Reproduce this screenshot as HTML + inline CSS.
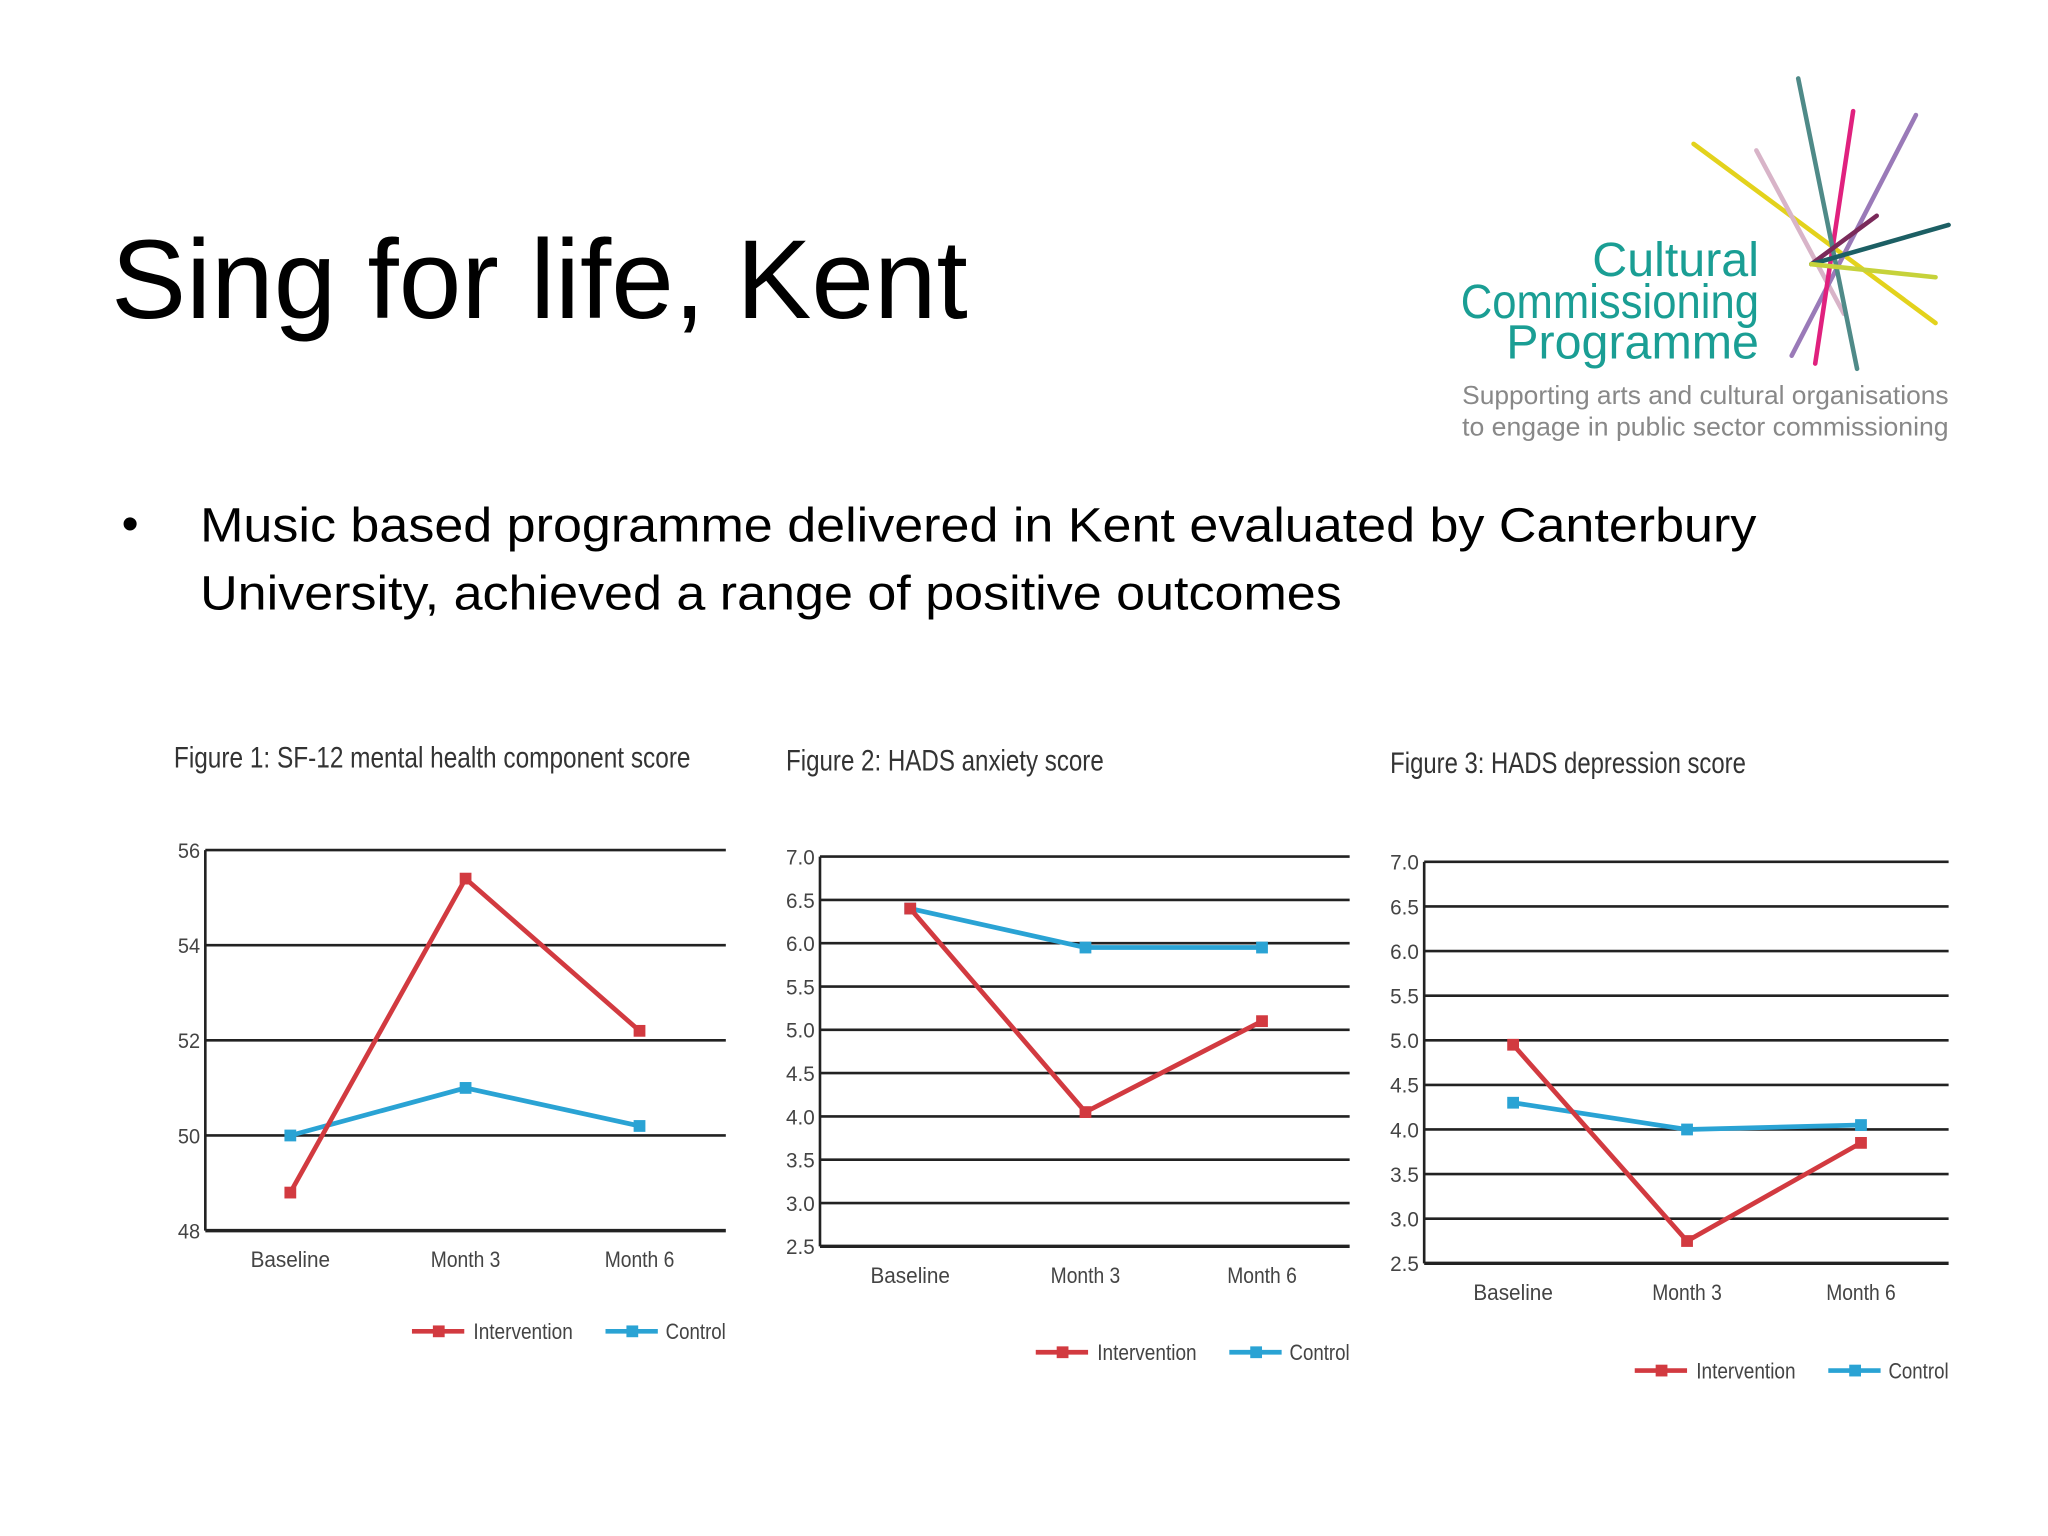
<!DOCTYPE html>
<html><head><meta charset="utf-8"><style>
html,body{margin:0;padding:0;background:#fff;}
svg{display:block;}
text{font-family:"Liberation Sans",sans-serif;}
</style></head><body>
<svg id="page" width="2048" height="1536" viewBox="0 0 1566 1174.5" preserveAspectRatio="none" xmlns="http://www.w3.org/2000/svg">
<rect width="1566" height="1175" fill="#fff"/>
<text x="85" y="243" font-size="86" fill="#000" textLength="655" lengthAdjust="spacingAndGlyphs">Sing for life, Kent</text>
<g>
  <g stroke-width="3.5" stroke-linecap="round">
    <line x1="1295" y1="110" x2="1480" y2="247" stroke="#e3d21c"/>
    <line x1="1343" y1="115" x2="1410" y2="240" stroke="#d8b4c8"/>
    <line x1="1465" y1="88" x2="1370" y2="272" stroke="#9a7ab8"/>
    <line x1="1417" y1="85" x2="1388" y2="278" stroke="#e0217e"/>
    <line x1="1375" y1="60" x2="1420" y2="282" stroke="#4f8a88"/>
    <line x1="1435" y1="165" x2="1385" y2="202" stroke="#7a2a5a"/>
    <line x1="1490" y1="172" x2="1385" y2="202" stroke="#1c5f64"/>
    <line x1="1385" y1="202" x2="1480" y2="212" stroke="#c6d23a"/>
  </g>
  <g fill="#1a9e94" font-size="37" text-anchor="end">
    <text x="1345" y="211">Cultural</text>
    <text x="1345" y="243" textLength="228" lengthAdjust="spacingAndGlyphs">Commissioning</text>
    <text x="1345" y="274">Programme</text>
  </g>
  <g fill="#888" font-size="20">
    <text x="1118" y="309" textLength="372" lengthAdjust="spacingAndGlyphs">Supporting arts and cultural organisations</text>
    <text x="1118" y="333" textLength="372" lengthAdjust="spacingAndGlyphs">to engage in public sector commissioning</text>
  </g>
</g>
<g font-size="37" fill="#000">
  <text x="93" y="413">•</text>
  <text x="153" y="414" textLength="1190" lengthAdjust="spacingAndGlyphs">Music based programme delivered in Kent evaluated by Canterbury</text>
  <text x="153" y="466" textLength="873" lengthAdjust="spacingAndGlyphs">University, achieved a range of positive outcomes</text>
</g>
<g id="charts"></g>
</svg>
<script>
const categories = ["Baseline","Month 3","Month 6"];
const fig1Title = "Figure 1: SF-12 mental health component score";
const fig1Ticks = [48,50,52,54,56];
const fig1TickLabels = ["48","50","52","54","56"];
const fig1Intervention = [48.8,55.4,52.2];
const fig1Control = [50.0,51.0,50.2];
const fig2Title = "Figure 2: HADS anxiety score";
const fig2Ticks = [2.5,3.0,3.5,4.0,4.5,5.0,5.5,6.0,6.5,7.0];
const fig2TickLabels = ["2.5","3.0","3.5","4.0","4.5","5.0","5.5","6.0","6.5","7.0"];
const fig2Intervention = [6.4,4.05,5.1];
const fig2Control = [6.4,5.95,5.95];
const fig3Title = "Figure 3: HADS depression score";
const fig3Ticks = [2.5,3.0,3.5,4.0,4.5,5.0,5.5,6.0,6.5,7.0];
const fig3TickLabels = ["2.5","3.0","3.5","4.0","4.5","5.0","5.5","6.0","6.5","7.0"];
const fig3Intervention = [4.95,2.75,3.85];
const fig3Control = [4.3,4.0,4.05];
const legendLabels = ["Intervention","Control"];

const NS = "http://www.w3.org/2000/svg";
const RED = "#d23a40", BLUE = "#2aa3d4";
function mk(tag, attrs, parent){const e=document.createElementNS(NS,tag);for(const k in attrs)e.setAttribute(k,attrs[k]);parent.appendChild(e);return e;}

function drawChart(cfg){
  const root=document.getElementById('charts');
  const g=mk('g',{},root);
  
  
  const min=cfg.ticks[0], max=cfg.ticks[cfg.ticks.length-1];
  const y=v=>cfg.bottom-(v-min)/(max-min)*(cfg.bottom-cfg.top);
  const x=i=>cfg.cx[i];
  const t=mk('text',{x:cfg.titleX,y:cfg.titleY,'font-size':23,fill:'#333',textLength:cfg.titleW,lengthAdjust:'spacingAndGlyphs'},g);
  t.textContent=cfg.title;
  
  
  cfg.ticks.forEach((v,i)=>{
    const l=mk('line',{x1:cfg.left,x2:cfg.right,y1:y(v),y2:y(v),stroke:'#222','stroke-width':i===0?2.6:2},g);
    
    
    const tl=mk('text',{x:cfg.left-4,y:y(v)+6,'font-size':16,fill:'#444','text-anchor':'end',textLength:cfg.tickW,lengthAdjust:'spacingAndGlyphs'},g);
    tl.textContent=cfg.tickLabels[i];
    
    
  });
  const ax=mk('line',{x1:cfg.left,x2:cfg.left,y1:cfg.top,y2:cfg.bottom,stroke:'#222','stroke-width':2},g);
  
  
  categories.forEach((c,i)=>{
    const ct=mk('text',{x:x(i),y:cfg.bottom+28,'font-size':17,fill:'#444','text-anchor':'middle',textLength:c.length*7.6,lengthAdjust:'spacingAndGlyphs'},g);
    ct.textContent=c;
    
    
  });
  [[cfg.control,BLUE,'control'],[cfg.intervention,RED,'intervention']].forEach(([vals,col,nm])=>{
    const pts=vals.map((v,i)=>x(i)+','+y(v)).join(' ');
    const pl=mk('polyline',{points:pts,fill:'none',stroke:col,'stroke-width':3.6,'stroke-linejoin':'round'},g);
    
    
    vals.forEach((v,i)=>{
      const r=mk('rect',{x:x(i)-4.5,y:y(v)-4.5,width:9,height:9,fill:col},g);
      
      
    });
  });
  const ly=cfg.bottom+cfg.legendDy, R=cfg.right;
  [[RED,-240,-193,legendLabels[0],76],[BLUE,-92,-46,legendLabels[1],46]].forEach(([col,ls,ts,lab,w])=>{
    const lg=mk('g',{},g);
    
    
    mk('line',{x1:R+ls,x2:R+ls+40,y1:ly,y2:ly,stroke:col,'stroke-width':3.6},lg);
    mk('rect',{x:R+ls+16,y:ly-4.5,width:9,height:9,fill:col},lg);
    const tx=mk('text',{x:R+ts,y:ly+6,'font-size':17,fill:'#444',textLength:w,lengthAdjust:'spacingAndGlyphs'},lg);
    tx.textContent=lab;
  });
}
drawChart({name:'figure-1-sf12-chart',title:fig1Title,titleX:133,titleY:587,titleW:395,left:157,right:555,top:650,bottom:941,cx:[222,356,489],ticks:fig1Ticks,tickLabels:fig1TickLabels,intervention:fig1Intervention,control:fig1Control,legendDy:77,tickW:17});
drawChart({name:'figure-2-anxiety-chart',title:fig2Title,titleX:601,titleY:589,titleW:243,left:627,right:1032,top:655,bottom:953,cx:[696,830,965],ticks:fig2Ticks,tickLabels:fig2TickLabels,intervention:fig2Intervention,control:fig2Control,legendDy:81,tickW:22});
drawChart({name:'figure-3-depression-chart',title:fig3Title,titleX:1063,titleY:591,titleW:272,left:1089,right:1490,top:659,bottom:966,cx:[1157,1290,1423],ticks:fig3Ticks,tickLabels:fig3TickLabels,intervention:fig3Intervention,control:fig3Control,legendDy:82,tickW:22});
</script>
</body></html>
